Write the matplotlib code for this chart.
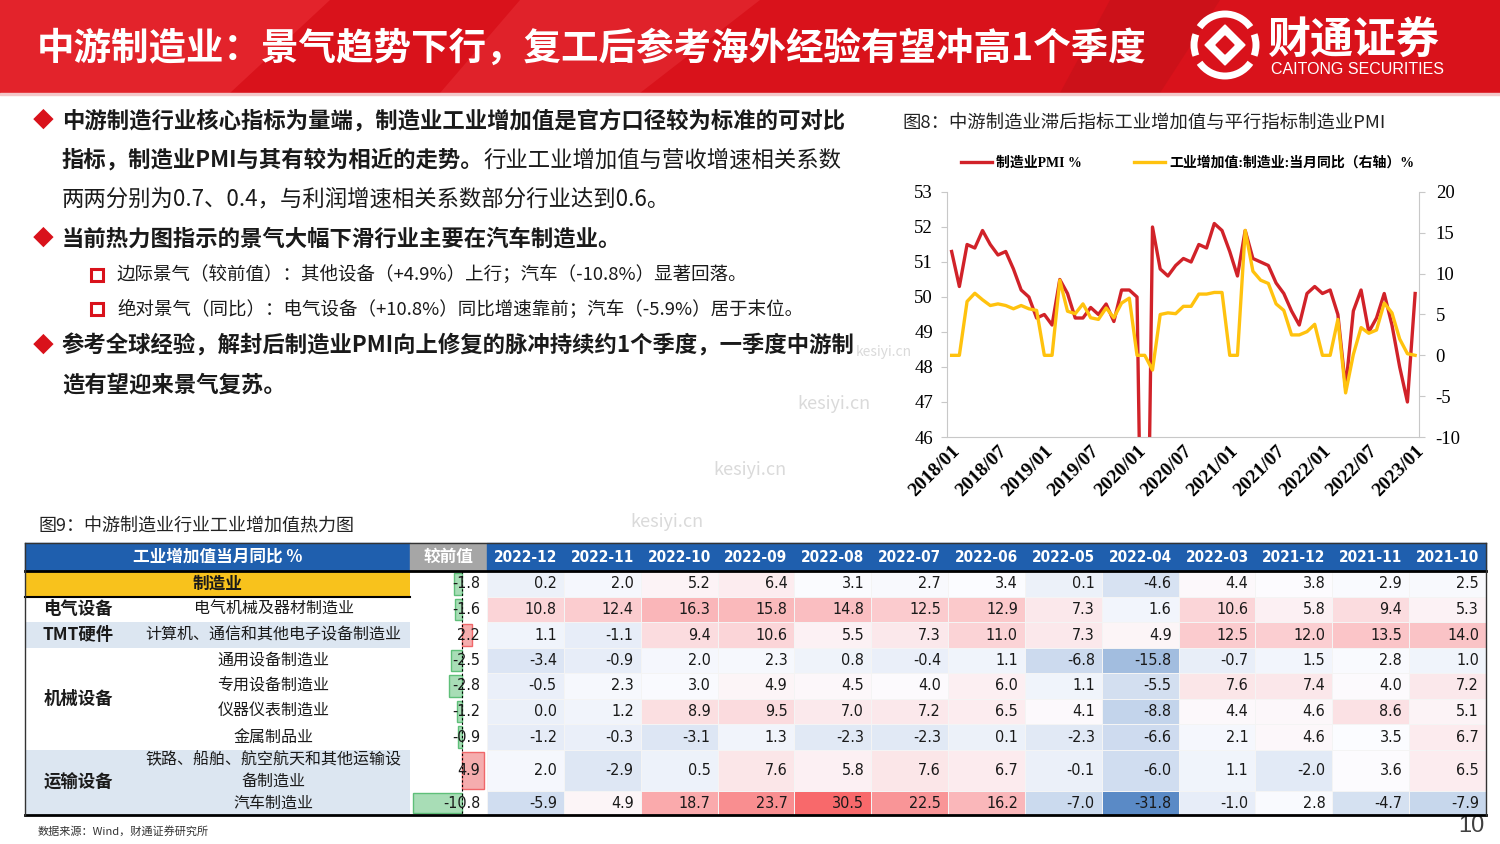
# -*- coding: utf-8 -*-
"""
中游制造业：景气趋势 + 工业增加值热力图（复刻页面）
"""

import numpy as np
import matplotlib
matplotlib.use('Agg')
import matplotlib.pyplot as plt
from matplotlib import patches
from matplotlib.colors import LinearSegmentedColormap, TwoSlopeNorm
from matplotlib.font_manager import FontProperties

plt.rcParams['font.family'] = ['Noto Sans CJK SC', 'DejaVu Sans']
plt.rcParams['axes.unicode_minus'] = False

# ============================================================
# 数据
# ============================================================
# 图8：2018/01 - 2023/01 月度
pmi = [51.3, 50.3, 51.5, 51.4, 51.9, 51.5, 51.2, 51.3, 50.8, 50.2, 50.0, 49.4,
       49.5, 49.2, 50.5, 50.1, 49.4, 49.4, 49.7, 49.5, 49.8, 49.3, 50.2, 50.2,
       50.0, 35.7, 52.0, 50.8, 50.6, 50.9, 51.1, 51.0, 51.5, 51.4, 52.1, 51.9,
       51.3, 50.6, 51.9, 51.1, 51.0, 50.9, 50.4, 50.1, 49.6, 49.2, 50.1, 50.3,
       50.1, 50.2, 49.5, 47.4, 49.6, 50.2, 49.0, 49.4, 50.1, 49.2, 48.0, 47.0,
       50.1]
iva = [0.0, 0.0, 6.6, 7.6, 6.8, 6.1, 6.3, 6.1, 5.7, 6.1, 5.7, 5.5,
       0.0, 0.0, 9.2, 5.4, 5.1, 6.3, 4.6, 4.4, 5.8, 4.6, 6.4, 7.0,
       0.0, 0.0, -1.8, 5.0, 5.2, 5.1, 6.0, 6.0, 7.5, 7.5, 7.7, 7.7,
       0.0, 0.0, 15.3, 10.3, 9.2, 8.8, 6.3, 5.5, 2.5, 2.5, 2.9, 3.8,
       0.0, 0.0, 4.4, -4.6, 0.1, 3.4, 2.7, 3.1, 6.4, 5.2, 2.0, 0.2,
       0.0]
x_tick_labels = ['2018/01', '2018/07', '2019/01', '2019/07', '2020/01', '2020/07',
                 '2021/01', '2021/07', '2022/01', '2022/07', '2023/01']
pmi_ticks = [46, 47, 48, 49, 50, 51, 52, 53]
iva_ticks = [-10, -5, 0, 5, 10, 15, 20]

# 图9：热力图
heat_cols = ['2022-12', '2022-11', '2022-10', '2022-09', '2022-08', '2022-07', '2022-06',
             '2022-05', '2022-04', '2022-03', '2021-12', '2021-11', '2021-10']
row_names = ['制造业', '电气机械及器材制造业', '计算机、通信和其他电子设备制造业',
             '通用设备制造业', '专用设备制造业', '仪器仪表制造业', '金属制品业',
             '铁路、船舶、航空航天和其他运输设\n备制造业', '汽车制造业']
prev_change = [-1.8, -1.6, 2.2, -2.5, -2.8, -1.2, -0.9, 4.9, -10.8]
heat_vals = [
    [0.2, 2.0, 5.2, 6.4, 3.1, 2.7, 3.4, 0.1, -4.6, 4.4, 3.8, 2.9, 2.5],
    [10.8, 12.4, 16.3, 15.8, 14.8, 12.5, 12.9, 7.3, 1.6, 10.6, 5.8, 9.4, 5.3],
    [1.1, -1.1, 9.4, 10.6, 5.5, 7.3, 11.0, 7.3, 4.9, 12.5, 12.0, 13.5, 14.0],
    [-3.4, -0.9, 2.0, 2.3, 0.8, -0.4, 1.1, -6.8, -15.8, -0.7, 1.5, 2.8, 1.0],
    [-0.5, 2.3, 3.0, 4.9, 4.5, 4.0, 6.0, 1.1, -5.5, 7.6, 7.4, 4.0, 7.2],
    [0.0, 1.2, 8.9, 9.5, 7.0, 7.2, 6.5, 4.1, -8.8, 4.4, 4.6, 8.6, 5.1],
    [-1.2, -0.3, -3.1, 1.3, -2.3, -2.3, 0.1, -2.3, -6.6, 2.1, 4.6, 3.5, 6.7],
    [2.0, -2.9, 0.5, 7.6, 5.8, 7.6, 6.7, -0.1, -6.0, 1.1, -2.0, 3.6, 6.5],
    [-5.9, 4.9, 18.7, 23.7, 30.5, 22.5, 16.2, -7.0, -31.8, -1.0, 2.8, -4.7, -7.9],
]
groups = [('电气设备', 1, 1), ('TMT硬件', 2, 2), ('机械设备', 3, 6), ('运输设备', 7, 8)]

RED = '#D9121B'
TXT = '#1A1A1A'

# ============================================================
# 画布（像素坐标的底层轴）
# ============================================================
fig = plt.figure(figsize=(15, 8.44), dpi=100)
bg = fig.add_axes([0, 0, 1, 1])
bg.set_xlim(0, 1500)
bg.set_ylim(844, 0)
bg.axis('off')

# 顶部红色标题栏
bg.add_patch(patches.Rectangle((0, 0), 1500, 93, color=RED, zorder=0))
for poly, c in [([(0, 0), (330, 0), (230, 93), (0, 93)], '#E3232B'),
                ([(520, 0), (760, 0), (640, 93), (440, 93)], '#E0222A'),
                ([(1110, 0), (1220, 0), (1160, 93), (1060, 93)], '#CC1119')]:
    bg.add_patch(patches.Polygon(poly, closed=True, color=c, zorder=0.5, lw=0))
bg.add_patch(patches.Rectangle((0, 93), 1500, 2, color='#F3C7C9', zorder=1))
bg.text(37, 48, '中游制造业：景气趋势下行，复工后参考海外经验有望冲高1个季度',
        color='white', fontsize=27, fontweight='bold', va='center', zorder=2)

# logo
cx, cy = 1225, 45
for t1, t2 in [(35, 145), (215, 325), (160, 200), (340, 20)]:
    bg.add_patch(patches.Arc((cx, cy), 62, 62, theta1=t1, theta2=t2,
                             color='white', lw=5, zorder=2))
bg.add_patch(patches.Polygon([(cx, cy - 20), (cx + 20, cy), (cx, cy + 20), (cx - 20, cy)],
                             closed=True, color='white', zorder=2))
bg.add_patch(patches.Polygon([(cx, cy - 9), (cx + 9, cy), (cx, cy + 9), (cx - 9, cy)],
                             closed=True, color=RED, zorder=3))
bg.text(1268, 40, '财通证券', color='white', fontsize=31, fontweight='bold',
        va='center', zorder=2)
bg.text(1271, 69, 'CAITONG SECURITIES', color='white', fontsize=11.5,
        family='Liberation Sans', va='center', zorder=2)

# ============================================================
# 左侧要点文字
# ============================================================
renderer = fig.canvas.get_renderer()


def put_text(x, y, s, **kw):
    t = bg.text(x, y, s, va='center', color=TXT, **kw)
    bb = t.get_window_extent(renderer)
    return bg.transData.inverted().transform((bb.x1, bb.y0))[0]


for yy in [121, 239, 346]:
    bg.text(43, yy, '◆', color=RED, fontsize=15, ha='center', va='center')
for yy in [275, 309]:
    bg.add_patch(patches.Rectangle((91, yy - 6), 12, 12, fill=False,
                                   edgecolor=RED, lw=2.2))

FS = 16.1
put_text(62, 121, '中游制造行业核心指标为量端，制造业工业增加值是官方口径较为标准的可对比',
         fontsize=FS, fontweight='bold')
xe = put_text(62, 160, '指标，制造业PMI与其有较为相近的走势。', fontsize=FS, fontweight='bold')
put_text(xe, 160, '行业工业增加值与营收增速相关系数', fontsize=FS)
put_text(62, 199, '两两分别为0.7、0.4，与利润增速相关系数部分行业达到0.6。', fontsize=FS)
put_text(62, 239, '当前热力图指示的景气大幅下滑行业主要在汽车制造业。', fontsize=FS, fontweight='bold')
put_text(117, 275, '边际景气（较前值）：其他设备（+4.9%）上行；汽车（-10.8%）显著回落。', fontsize=13.3)
put_text(117, 309, '绝对景气（同比）：电气设备（+10.8%）同比增速靠前；汽车（-5.9%）居于末位。', fontsize=13.3)
put_text(62, 346, '参考全球经验，解封后制造业PMI向上修复的脉冲持续约1个季度，一季度中游制',
         fontsize=FS, fontweight='bold')
put_text(62, 385, '造有望迎来景气复苏。', fontsize=FS, fontweight='bold')

# 水印
for wx, wy, ws in [(884, 352, 10), (834, 404, 13), (750, 470, 13), (667, 522, 13)]:
    bg.text(wx, wy, 'kesiyi.cn', color='#DADADA', fontsize=ws, ha='center', va='center')

# ============================================================
# 图8：折线图
# ============================================================
bg.text(902, 124, '图8：中游制造业滞后指标工业增加值与平行指标制造业PMI',
        fontsize=13.2, color='#222222', va='center')

ax = fig.add_axes([947 / 1500, 1 - 437 / 844, 472 / 1500, 245 / 844])
ax.patch.set_alpha(0)
x = np.arange(len(pmi))
l1, = ax.plot(x, pmi, color='#D12229', lw=2.4)
ax.set_ylim(46, 53)
ax.set_xlim(-0.6, 60.5)
ax2 = ax.twinx()
l2, = ax2.plot(x, iva, color='#FFC20E', lw=2.4)
ax2.set_ylim(-10, 20)

for a in (ax, ax2):
    for sp in a.spines.values():
        sp.set_color('#C8C8C8')
    a.spines['top'].set_visible(False)
ax.spines['right'].set_visible(False)
ax2.spines['left'].set_visible(False)
ax2.spines['bottom'].set_visible(False)

serif = 'Liberation Serif'
ax.set_yticks(pmi_ticks)
ax.set_yticklabels([str(v) for v in pmi_ticks], fontfamily=serif, fontsize=13.5)
ax2.set_yticks(iva_ticks)
ax2.set_yticklabels([str(v) for v in iva_ticks], fontfamily=serif, fontsize=13.5)
ax.tick_params(axis='y', length=4, color='#C8C8C8', pad=6)
ax2.tick_params(axis='y', length=4, color='#C8C8C8', pad=8)
ax.set_xticks(range(0, 61, 6))
ax.set_xticklabels(x_tick_labels, rotation=45, ha='right', rotation_mode='anchor',
                   fontfamily=serif, fontweight='bold', fontsize=14)
ax.tick_params(axis='x', length=0, pad=4)

leg_font = FontProperties(family=[serif, 'Noto Sans CJK SC'], weight='bold', size=10)
ax.legend([l1, l2], ['制造业PMI %', '工业增加值:制造业:当月同比（右轴）%'],
          loc='center left', bbox_to_anchor=(0.03, 1.118), ncol=2, frameon=False,
          prop=leg_font, handlelength=2.2, handletextpad=0.3, columnspacing=3.8,
          borderpad=0, borderaxespad=0)

# ============================================================
# 图9：热力图表格
# ============================================================
bg.text(38, 526, '图9：中游制造业行业工业增加值热力图', fontsize=13, color='#222222', va='center')

X0, XSUB, XPREV, XH, XEND = 25, 133, 410, 487, 1486
Y_HEAD, Y_HEAD_B = 543, 570
row_edges = np.array([571, 597, 622, 648, 673, 699, 724, 750, 791, 815])
row_mid = (row_edges[:-1] + row_edges[1:]) / 2
col_edges = np.linspace(XH, XEND, len(heat_cols) + 1)
col_mid = (col_edges[:-1] + col_edges[1:]) / 2

# 表头
bg.add_patch(patches.Rectangle((X0, Y_HEAD), XPREV - X0, Y_HEAD_B - Y_HEAD, color='#1F5FAE'))
bg.add_patch(patches.Rectangle((XPREV, Y_HEAD), XH - XPREV, Y_HEAD_B - Y_HEAD, color='#A6A6A6'))
bg.add_patch(patches.Rectangle((XH, Y_HEAD), XEND - XH, Y_HEAD_B - Y_HEAD, color='#1F5FAE'))
bg.text((X0 + XPREV) / 2, 557, '工业增加值当月同比 %', color='white', fontsize=12,
        fontweight='bold', ha='center', va='center')
bg.text((XPREV + XH) / 2, 557, '较前值', color='white', fontsize=12,
        fontweight='bold', ha='center', va='center')
for c, lab in zip(col_mid, heat_cols):
    bg.text(c, 557, lab, color='white', fontsize=11, fontweight='bold',
            family='DejaVu Sans', fontstretch='condensed', ha='center', va='center')

# 左侧行标签底色
row_bg = ['#F8C21C', 'white', '#DCE6F1', 'white', 'white', 'white', 'white', '#DCE6F1', '#DCE6F1']
for i, c in enumerate(row_bg):
    bg.add_patch(patches.Rectangle((X0, row_edges[i]), XPREV - X0,
                                   row_edges[i + 1] - row_edges[i], color=c, lw=0))

bg.text((X0 + XPREV) / 2, row_mid[0], row_names[0], fontsize=12, fontweight='bold',
        ha='center', va='center', color=TXT)
for i in range(1, len(row_names)):
    bg.text((XSUB + XPREV) / 2 + 2, row_mid[i], row_names[i], fontsize=11.5,
            ha='center', va='center', color=TXT, linespacing=1.3)
for name, r0, r1 in groups:
    bg.text(78, (row_edges[r0] + row_edges[r1 + 1]) / 2, name, fontsize=12.5,
            fontweight='bold', ha='center', va='center', color=TXT)

# 热力格
vals = np.array(heat_vals)
cmap = LinearSegmentedColormap.from_list('bwr_xl', ['#5A8AC6', '#FCFCFF', '#F8696B'])
norm = TwoSlopeNorm(vmin=vals.min(), vcenter=np.percentile(vals, 50), vmax=vals.max())
bg.pcolormesh(col_edges, row_edges, vals, cmap=cmap, norm=norm,
              edgecolor='#F4F4F4', linewidth=0.4)
num_kw = dict(fontsize=11.5, family='DejaVu Sans', fontstretch='condensed',
              ha='right', va='center', color=TXT)
for i in range(vals.shape[0]):
    for j in range(vals.shape[1]):
        bg.text(col_edges[j + 1] - 7, row_mid[i], f'{vals[i, j]:.1f}', **num_kw)

# 较前值数据条
ZERO, SCALE = 462, 4.5
pc = np.array(prev_change)
heights = np.diff(row_edges) - 4
bar_fc = ['#A8DDB6' if v < 0 else '#F5ADAE' for v in pc]
bar_ec = ['#5FBF79' if v < 0 else '#F0676A' for v in pc]
bg.barh(row_mid, pc * SCALE, left=ZERO, height=heights, color=bar_fc,
        edgecolor=bar_ec, linewidth=1)
bg.vlines(ZERO, row_edges[0], row_edges[-1], colors='black', linestyles=(0, (2, 2)), lw=0.8)
for i, v in enumerate(pc):
    bg.text(480, row_mid[i], f'{v:.1f}', **num_kw)

# 表格边框
bg.plot([X0, XEND], [Y_HEAD, Y_HEAD], color='#333333', lw=1)
bg.plot([X0, XEND], [Y_HEAD_B + 0.5, Y_HEAD_B + 0.5], color='black', lw=2)
bg.plot([X0, XPREV], [row_edges[1], row_edges[1]], color='black', lw=1.5)
bg.plot([X0, XEND], [row_edges[-1], row_edges[-1]], color='black', lw=2)
bg.plot([X0, X0], [Y_HEAD, row_edges[-1]], color='#333333', lw=1)
bg.plot([XEND, XEND], [Y_HEAD, row_edges[-1]], color='#333333', lw=1)

# 页脚
bg.text(38, 831, '数据来源：Wind，财通证券研究所', fontsize=8, color='#333333', va='center')
bg.text(1471, 826, '10', fontsize=17, color='#404040', ha='center', va='center',
        family='Liberation Sans', zorder=0.5)

fig.savefig('out.png', dpi=100)
plt.close()
